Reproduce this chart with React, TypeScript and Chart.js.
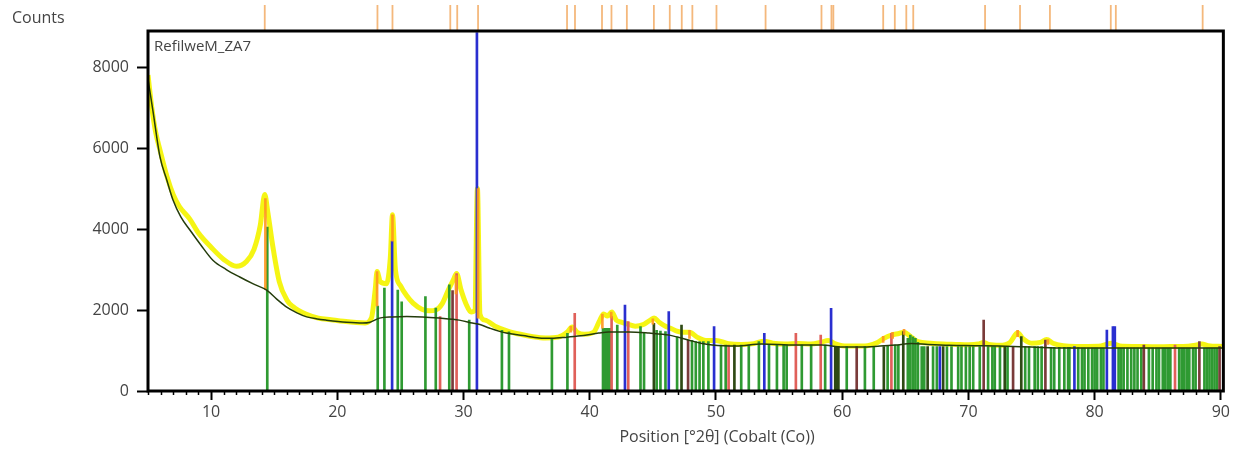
import React, { useEffect, useRef } from "react";
import { Chart, registerables } from "chart.js";

Chart.register(...registerables);

// ---------- axis ranges / ticks ----------
const X_MIN = 5;
const X_MAX = 90.2;
const Y_MAX = 8890;
const xMajorTicks = [10, 20, 30, 40, 50, 60, 70, 80, 90];
const yMajorTicks = [0, 2000, 4000, 6000, 8000];

// ---------- observed scan (yellow) ----------
const observedPos = [
  5.0, 5.3, 5.6, 5.95, 6.5, 7.0, 7.5, 8.3, 9.0, 10.0, 11.0, 12.0, 12.8, 13.4, 13.9, 14.25, 14.5, 14.9, 15.4, 16.0,
  16.5, 17.5, 18.5, 19.5, 20.5, 21.5, 22.2, 22.7, 23.0, 23.15, 23.4, 23.9, 24.2, 24.37, 24.6, 25.0, 25.5, 26.0, 26.7,
  27.3, 27.8, 28.3, 28.8, 29.2, 29.45, 29.8, 30.2, 30.6, 30.9, 31.1, 31.3, 31.7, 32.5, 33.5, 34.5, 35.5, 36.5, 37.5,
  38.2, 38.6, 39.0, 39.6, 40.3, 40.8, 41.1, 41.4, 41.75, 42.1, 42.5, 43.0, 43.6, 44.3, 44.8, 45.1, 45.5, 46.0, 46.4,
  46.9, 47.4, 47.9, 48.5, 49.2, 50.0, 51.0, 52.0, 53.0, 53.8, 54.5, 55.5, 56.5, 57.5, 58.3, 58.9, 59.4, 60.0, 61.0,
  62.0, 62.8, 63.3, 63.9, 64.5, 64.9, 65.4, 66.0, 67.0, 68.0, 69.0, 70.0, 70.8, 71.2, 71.6, 72.5, 73.3, 73.9, 74.3,
  75.0, 75.7, 76.2, 76.7, 77.5, 78.5, 79.5, 80.5, 81.3, 82.0, 83.0, 84.0, 85.0, 86.0, 87.0, 88.0, 88.5, 89.0, 90.2,
];
const observedCounts = [
  7800, 7000, 6400, 5950, 5300, 4850, 4550, 4250, 3900, 3550, 3250, 3080, 3200, 3500, 4100, 4850, 4400, 3550, 2700, 2250,
  2080, 1900, 1800, 1760, 1720, 1690, 1680, 1800, 2500, 2950, 2700, 2650, 3300, 4350, 3000, 2600, 2350, 2170, 2020,
  1980, 2000, 2150, 2500, 2750, 2900, 2500, 2150, 1950, 2000, 5000, 1900, 1750, 1600, 1480, 1400, 1340, 1310, 1330,
  1450, 1580, 1450, 1400, 1450, 1750, 1900, 1850, 1950, 1750, 1700, 1650, 1600, 1650, 1750, 1800, 1700, 1600, 1550,
  1480, 1450, 1450, 1330, 1250, 1250, 1170, 1150, 1170, 1230, 1180, 1160, 1170, 1160, 1200, 1250, 1170, 1120, 1110,
  1120, 1200, 1300, 1380, 1420, 1450, 1350, 1220, 1180, 1160, 1150, 1140, 1160, 1200, 1150, 1130, 1200, 1440, 1300,
  1180, 1200, 1270, 1180, 1120, 1100, 1100, 1110, 1180, 1110, 1100, 1100, 1090, 1100, 1100, 1130, 1160, 1120, 1100,
];

// ---------- fitted background (dark green) ----------
const backgroundPos = [
  5.0, 5.4, 5.95, 6.5, 6.98, 7.6, 8.32, 9.2, 10.14, 11.2, 12.27, 13.3, 14.4, 15.2, 15.99, 16.8, 17.57, 18.4, 19.15,
  20.73, 22.0, 22.6, 23.34, 24.37, 25.5, 26.74, 28.08, 29.66, 30.69, 31.3, 32.04, 33.38, 34.7, 35.99, 37.0, 38.2, 39.5,
  40.7, 41.5, 43.1, 44.7, 46.3, 47.8, 48.8, 49.7, 51.6, 53.6, 56.3, 58.4, 60.0, 61.5, 63.0, 64.2, 65.5, 66.8, 68.5,
  70.5, 72.4, 75.0, 77.6, 80.3, 85.0, 90.2,
];
const backgroundCounts = [
  7700, 6900, 5780, 5200, 4715, 4300, 3975, 3600, 3230, 3000, 2815, 2650, 2490, 2270, 2070, 1930, 1830, 1780, 1750,
  1700, 1680, 1700, 1800, 1830, 1840, 1830, 1800, 1750, 1680, 1640, 1555, 1430, 1370, 1310, 1300, 1330, 1370,
  1430, 1460, 1460, 1430, 1380, 1260, 1180, 1135, 1110, 1160, 1135, 1135, 1085, 1085, 1110, 1135, 1170, 1150, 1130,
  1120, 1110, 1085, 1060, 1060, 1060, 1060,
];

// ---------- phase sticks ----------
const greenStickPos = [
  14.45, 23.2, 23.73, 24.79, 25.1, 26.98, 27.8, 28.87, 30.45, 33.04, 33.6, 37.0, 38.23, 41.05, 41.2, 41.35, 41.5, 41.6,
  42.18, 44.02, 44.3, 45.3, 45.6, 46.0, 46.92, 48.1, 48.4, 48.7, 49.0, 49.4, 50.4, 50.77, 52.0, 52.6, 53.4, 54.2, 54.83,
  55.36, 55.6, 56.8, 57.54, 58.65, 60.36, 61.8, 62.5, 63.6, 64.2, 64.45, 65.2, 65.4, 65.6, 65.8, 66.0, 66.3, 66.5, 67.2,
  67.5, 68.3, 68.66, 69.19, 69.45, 69.8, 70.1, 70.38, 70.9, 71.56, 71.9, 72.09, 72.5, 73.1, 74.5, 74.8, 75.25, 75.5,
  75.8, 76.55, 76.8, 77.2, 77.6, 77.9, 78.0, 78.7, 79.0, 79.2, 79.5, 79.8, 80.0, 80.2, 80.5, 80.7, 81.9, 82.1, 82.3,
  82.6, 82.9, 83.15, 83.4, 83.7, 84.3, 84.6, 84.9, 85.1, 85.4, 85.6, 85.8, 86.0, 86.7, 86.9, 87.1, 87.3, 87.5, 87.8,
  88.0, 88.7, 88.9, 89.1, 89.3, 89.5, 89.7,
];
const greenStickCounts = [
  4050, 2100, 2540, 2490, 2200, 2330, 2050, 2620, 1750, 1500, 1460, 1300, 1424, 1550, 1550, 1550, 1550, 1550,
  1630, 1590, 1450, 1500, 1480, 1465, 1340, 1250, 1220, 1220, 1220, 1220, 1136, 1136, 1136, 1136, 1218, 1136, 1136,
  1136, 1136, 1136, 1136, 1136, 1100, 1100, 1100, 1120, 1136, 1136, 1300, 1383, 1340, 1300, 1200, 1100, 1100, 1100,
  1100, 1100, 1100, 1100, 1100, 1100, 1100, 1100, 1100, 1100, 1100, 1100, 1100, 1100, 1100, 1100, 1100, 1100,
  1100, 1080, 1080, 1080, 1080, 1080, 1080, 1070, 1060, 1060, 1060, 1060, 1060, 1060, 1060, 1060, 1060, 1060, 1060,
  1060, 1060, 1060, 1060, 1060, 1060, 1060, 1060, 1060, 1060, 1060, 1060, 1060, 1060, 1060, 1060, 1060, 1060, 1060,
  1060, 1060, 1060, 1060, 1060, 1060, 1060,
];
const darkStickPos = [45.08, 47.27, 51.46, 59.45, 59.6, 59.7, 63.3, 64.84, 66.77, 68.0, 72.88, 74.19];
const darkStickCounts = [1670, 1630, 1136, 1100, 1100, 1100, 1100, 1465, 1100, 1100, 1100, 1341];
const blueStickPos = [24.34, 31.06, 42.79, 46.26, 49.85, 53.83, 59.12, 67.74, 78.4, 80.97, 81.45, 81.6];
const blueStickCounts = [3700, 8850, 2120, 1960, 1590, 1424, 2040, 1100, 1100, 1506, 1588, 1588];
const redStickPos = [28.14, 29.45, 38.81, 41.73, 43.05, 51.0, 56.33, 58.3, 63.9, 86.37];
const redStickCounts = [1835, 2900, 1918, 1835, 1712, 1136, 1424, 1383, 1424, 1136];
const brownStickPos = [29.13, 47.79, 61.15, 71.21, 73.54, 76.1, 83.9, 88.3, 89.9];
const brownStickCounts = [2480, 1259, 1100, 1753, 1100, 1259, 1136, 1218, 1094];
const orangeStickPos = [14.3, 23.15, 24.37, 29.4, 31.15, 38.5, 41.0, 41.7, 45.0, 47.9, 63.25, 64.0, 64.9, 73.9, 76.3];
const orangeStickLow = [2500, 2100, 3700, 2400, 1800, 1450, 1550, 1800, 1650, 1300, 1200, 1300, 1400, 1340, 1150];
const orangeStickHigh = [4750, 2950, 4350, 2850, 5000, 1600, 1900, 1950, 1780, 1500, 1350, 1450, 1520, 1500, 1270];

// ---------- reference pattern markers above the plot ----------
const referenceMarkPos = [
  14.25, 23.18, 24.37, 28.95, 29.5, 31.15, 38.2, 38.83, 40.97, 41.72, 42.94, 45.08, 46.34, 47.29, 48.13, 50.04, 53.93,
  58.36, 59.15, 59.3, 63.25, 64.17, 65.08, 65.63, 71.32, 74.09, 76.46, 81.28, 81.68, 88.56,
];

const TEXT = "#444444";
const FONT = "'Open Sans', 'DejaVu Sans', sans-serif";

function pts(xs: number[], ys: number[]) {
  return xs.map((x, i) => ({ x, y: ys[i] }));
}

function sticks(label: string, xs: number[], ys: number[], color: string, order: number) {
  return {
    type: "bar" as const,
    label,
    data: pts(xs, ys),
    backgroundColor: color,
    borderWidth: 0,
    barThickness: 2,
    grouped: false,
    order,
  };
}

const decorPlugin = {
  id: "decor",
  afterDatasetsDraw(chart: any) {
    const { ctx, chartArea, scales } = chart;
    const xs = scales.x;
    ctx.save();
    // reference markers on top
    referenceMarkPos.forEach((v) => {
      const px = xs.getPixelForValue(v);
      ctx.strokeStyle = "rgba(240,160,80,0.75)";
      ctx.lineWidth = 1.8;
      ctx.beginPath();
      ctx.moveTo(px, 5);
      ctx.lineTo(px, chartArea.top);
      ctx.stroke();
    });
    // minor x ticks
    ctx.strokeStyle = "#000";
    ctx.lineWidth = 1.5;
    for (let v = Math.ceil(X_MIN); v <= Math.floor(X_MAX); v++) {
      if (v % 10 === 0) continue;
      const px = Math.round(xs.getPixelForValue(v)) + 0.5;
      ctx.beginPath();
      ctx.moveTo(px, chartArea.bottom);
      ctx.lineTo(px, chartArea.bottom + 4);
      ctx.stroke();
    }
    // frame
    ctx.strokeStyle = "#000";
    ctx.lineWidth = 3;
    ctx.strokeRect(chartArea.left, chartArea.top, chartArea.right - chartArea.left, chartArea.bottom - chartArea.top);
    // texts
    ctx.fillStyle = TEXT;
    ctx.textBaseline = "middle";
    ctx.textAlign = "left";
    ctx.font = `16px ${FONT}`;
    ctx.fillText("Counts", 12, 18);
    ctx.font = `15px ${FONT}`;
    ctx.fillText("RefilweM_ZA7", chartArea.left + 6, chartArea.top + 16);
    ctx.textAlign = "center";
    ctx.font = `16px ${FONT}`;
    ctx.fillText("Position [°2θ] (Cobalt (Co))", 717, 437);
    ctx.restore();
  },
};

export default function App() {
  const ref = useRef<HTMLCanvasElement | null>(null);

  useEffect(() => {
    document.body.style.margin = "0";
    const canvas = ref.current;
    if (!canvas) return;
    const chart = new Chart(canvas, {
      type: "bar",
      data: {
        datasets: [
          {
            type: "line",
            label: "Observed",
            data: pts(observedPos, observedCounts),
            borderColor: "rgba(244,244,0,0.92)",
            borderWidth: 5,
            pointRadius: 0,
            cubicInterpolationMode: "monotone",
            order: 20,
          } as any,
          sticks("Phase A", greenStickPos, greenStickCounts, "#2f9a32", 10),
          sticks("Phase A dark", darkStickPos, darkStickCounts, "#2e4a14", 9),
          sticks("Phase B", blueStickPos, blueStickCounts, "#2a2fd0", 8),
          sticks("Phase C", redStickPos, redStickCounts, "#e0605a", 8),
          sticks("Phase D", brownStickPos, brownStickCounts, "#7a3b3a", 8),
          {
            type: "bar",
            label: "Reference",
            data: orangeStickPos.map((x, i) => ({ x, y: [orangeStickLow[i], orangeStickHigh[i]] })),
            backgroundColor: "rgba(255,150,30,0.9)",
            borderWidth: 0,
            barThickness: 2,
            grouped: false,
            order: 7,
          } as any,
          {
            type: "line",
            label: "Background",
            data: pts(backgroundPos, backgroundCounts),
            borderColor: "#243c0c",
            borderWidth: 1.5,
            pointRadius: 0,
            cubicInterpolationMode: "monotone",
            order: 1,
          } as any,
        ],
      },
      options: {
        responsive: false,
        animation: false,
        devicePixelRatio: 1,
        layout: { padding: { top: 31, right: 7, left: 0, bottom: 0 } },
        plugins: { legend: { display: false }, tooltip: { enabled: false }, title: { display: false } },
        scales: {
          x: {
            type: "linear",
            min: X_MIN,
            max: X_MAX,
            offset: false,
            afterBuildTicks: (s: any) => {
              s.ticks = xMajorTicks.map((value) => ({ value }));
            },
            afterFit: (s: any) => {
              s.height = 63;
            },
            grid: {
              offset: false,
              drawOnChartArea: false,
              drawTicks: true,
              tickLength: 9,
              tickColor: "#000",
              tickWidth: 2,
            },
            border: { display: false },
            ticks: {
              autoSkip: false,
              maxRotation: 0,
              padding: 3,
              color: TEXT,
              font: { family: FONT, size: 16 },
              callback: (v: any) => String(v),
            },
          },
          y: {
            type: "linear",
            min: 0,
            max: Y_MAX,
            afterBuildTicks: (s: any) => {
              s.ticks = yMajorTicks.map((value) => ({ value }));
            },
            afterFit: (s: any) => {
              s.width = 148;
            },
            grid: {
              drawOnChartArea: false,
              drawTicks: true,
              tickLength: 11,
              tickColor: "#000",
              tickWidth: 2,
            },
            border: { display: false },
            ticks: {
              padding: 8,
              color: TEXT,
              font: { family: FONT, size: 16 },
              callback: (v: any) => String(v),
            },
          },
        },
      },
      plugins: [decorPlugin],
    } as any);
    return () => chart.destroy();
  }, []);

  return (
    <div style={{ width: 1233, height: 454 }}>
      <canvas ref={ref} width={1233} height={454} style={{ display: "block" }} />
    </div>
  );
}
